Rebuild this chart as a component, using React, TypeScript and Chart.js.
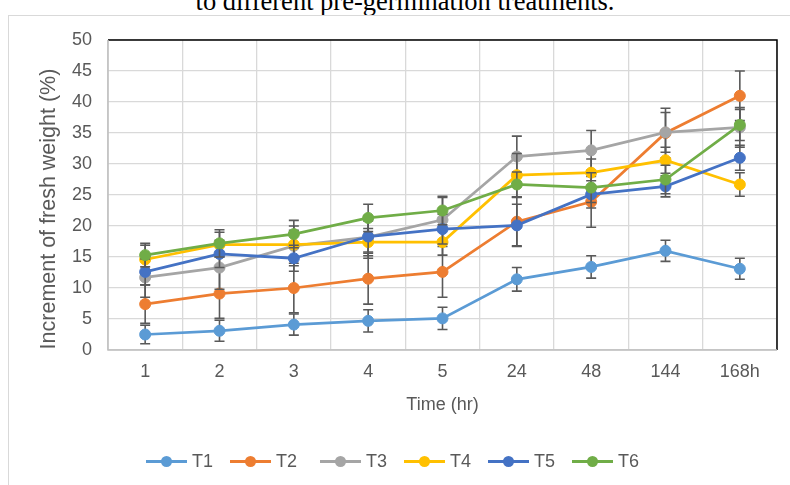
import React, { useEffect, useRef } from "react";
import { Chart, registerables } from "chart.js";

Chart.register(...registerables);

const categories = ["1", "2", "3", "4", "5", "24", "48", "144", "168h"];
const seriesNames = ["T1", "T2", "T3", "T4", "T5", "T6"];
const seriesColors = ["#5B9BD5", "#ED7D31", "#A5A5A5", "#FFC000", "#4472C4", "#70AD47"];

const t1 = [2.5, 3.1, 4.1, 4.7, 5.1, 11.4, 13.4, 16.0, 13.1];
const t2 = [7.4, 9.1, 10.0, 11.5, 12.6, 20.7, 23.9, 35.0, 41.0];
const t3 = [11.7, 13.3, 16.8, 18.2, 21.0, 31.2, 32.2, 35.1, 35.9];
const t4 = [14.6, 17.0, 17.0, 17.4, 17.4, 28.2, 28.6, 30.6, 26.7];
const t5 = [12.6, 15.5, 14.8, 18.3, 19.5, 20.1, 25.1, 26.4, 31.0];
const t6 = [15.3, 17.2, 18.7, 21.3, 22.5, 26.7, 26.2, 27.5, 36.3];

const t1Err = [1.5, 1.7, 1.7, 1.8, 1.8, 1.9, 1.8, 1.7, 1.7];
const t2Err = [3.1, 4.0, 4.0, 4.1, 4.1, 3.9, 4.1, 4.0, 4.0];
const t3Err = [3.2, 3.5, 3.2, 3.4, 3.6, 3.3, 3.2, 3.2, 3.2];
const t4Err = [2.3, 2.0, 2.3, 2.2, 2.1, 3.5, 2.2, 2.1, 1.9];
const t5Err = [2.1, 2.2, 2.1, 2.5, 2.4, 3.4, 2.2, 1.7, 2.0];
const t6Err = [1.9, 2.2, 2.2, 2.2, 2.3, 2.0, 2.4, 2.3, 2.5];

const seriesValues = [t1, t2, t3, t4, t5, t6];
const seriesErrors = [t1Err, t2Err, t3Err, t4Err, t5Err, t6Err];

const yTitle = "Increment of fresh weight (%)";
const xTitle = "Time (hr)";
const captionText = "to different pre-germination treatments.";

const sansFont = "'Liberation Sans', Arial, sans-serif";
const textGray = "#595959";

const errorBarPlugin = {
  id: "errorBars",
  beforeDatasetDraw(chart: any, args: any) {
    const idx = args.index;
    const errs = seriesErrors[idx];
    const vals = seriesValues[idx];
    if (!errs) return;
    const meta = chart.getDatasetMeta(idx);
    const yScale = chart.scales.y;
    const ctx = chart.ctx;
    ctx.save();
    ctx.strokeStyle = "#595959";
    ctx.lineWidth = 1.6;
    meta.data.forEach((pt: any, i: number) => {
      const x = pt.x;
      const yt = yScale.getPixelForValue(vals[i] + errs[i]);
      const yb = yScale.getPixelForValue(vals[i] - errs[i]);
      ctx.beginPath();
      ctx.moveTo(x, yt);
      ctx.lineTo(x, yb);
      ctx.moveTo(x - 5, yt);
      ctx.lineTo(x + 5, yt);
      ctx.moveTo(x - 5, yb);
      ctx.lineTo(x + 5, yb);
      ctx.stroke();
    });
    ctx.restore();
  },
};

const plotBorderPlugin = {
  id: "plotBorder",
  beforeDatasetsDraw(chart: any) {
    const { ctx, chartArea } = chart;
    ctx.save();
    ctx.strokeStyle = "#000000";
    ctx.lineWidth = 1.5;
    ctx.beginPath();
    ctx.moveTo(chartArea.left, chartArea.top);
    ctx.lineTo(chartArea.right, chartArea.top);
    ctx.lineTo(chartArea.right, chartArea.bottom);
    ctx.stroke();
    ctx.strokeStyle = "#bfbfbf";
    ctx.beginPath();
    ctx.moveTo(chartArea.left, chartArea.top);
    ctx.lineTo(chartArea.left, chartArea.bottom);
    ctx.lineTo(chartArea.right, chartArea.bottom);
    ctx.stroke();
    ctx.restore();
  },
};

export default function App() {
  const canvasRef = useRef<HTMLCanvasElement | null>(null);

  useEffect(() => {
    const canvas = canvasRef.current;
    if (!canvas) return;
    const chart = new Chart(canvas, {
      type: "line",
      data: {
        labels: categories,
        datasets: seriesNames.map((name, i) => ({
          label: name,
          data: seriesValues[i],
          borderColor: seriesColors[i],
          backgroundColor: seriesColors[i],
          pointBackgroundColor: seriesColors[i],
          pointBorderColor: seriesColors[i],
          pointRadius: 5.5,
          pointBorderWidth: 1,
          borderWidth: 2.75,
          tension: 0,
          order: seriesNames.length - i,
        })),
      },
      options: {
        animation: false,
        responsive: false,
        maintainAspectRatio: false,
        layout: { padding: { top: 40, right: 13, left: 0, bottom: 0 } },
        plugins: {
          legend: { display: false },
          tooltip: { enabled: false },
        },
        scales: {
          x: {
            type: "category",
            offset: true,
            grid: { color: "#d9d9d9", lineWidth: 1.3, offset: true, drawTicks: false },
            border: { display: false },
            ticks: {
              color: textGray,
              font: { family: sansFont, size: 18 },
              padding: 11,
              maxRotation: 0,
              autoSkip: false,
            },
            title: {
              display: true,
              text: xTitle,
              color: textGray,
              font: { family: sansFont, size: 18 },
              padding: { top: 0, bottom: 69 },
            },
            afterFit(scale: any) {
              scale.height = 135;
            },
          },
          y: {
            min: 0,
            max: 50,
            grid: { color: "#d9d9d9", lineWidth: 1.3, drawTicks: false },
            border: { display: false },
            ticks: {
              stepSize: 5,
              color: textGray,
              font: { family: sansFont, size: 18 },
              padding: 16,
            },
            afterFit(scale: any) {
              scale.width = 108;
            },
          },
        },
      },
      plugins: [plotBorderPlugin, errorBarPlugin],
    });
    return () => chart.destroy();
  }, []);

  return (
    <div
      style={{
        position: "absolute",
        left: 0,
        top: 0,
        width: 790,
        height: 485,
        overflow: "hidden",
        background: "#ffffff",
      }}
    >
      <div
        style={{
          position: "absolute",
          left: 0,
          top: -12,
          width: 810,
          textAlign: "center",
          fontFamily: "'Liberation Serif', 'Times New Roman', serif",
          fontSize: 26.5,
          lineHeight: "26px",
          color: "#000",
          whiteSpace: "nowrap",
        }}
      >
        {captionText}
      </div>
      <div
        style={{
          position: "absolute",
          left: 8,
          top: 15,
          width: 820,
          height: 520,
          border: "1px solid #d9d9d9",
          boxSizing: "border-box",
          background: "#ffffff",
        }}
      />
      <canvas
        ref={canvasRef}
        width={790}
        height={485}
        style={{ position: "absolute", left: 0, top: 0, width: 790, height: 485 }}
      />
      <div
        style={{
          position: "absolute",
          left: 48 - 170,
          top: 209 - 13,
          width: 340,
          height: 26,
          lineHeight: "26px",
          textAlign: "center",
          transform: "rotate(-90deg)",
          fontFamily: sansFont,
          fontSize: 21.5,
          color: textGray,
          whiteSpace: "nowrap",
        }}
      >
        {yTitle}
      </div>
      <div
        style={{
          position: "absolute",
          left: 146,
          top: 461 - 12,
          height: 24,
          display: "flex",
          alignItems: "center",
          fontFamily: sansFont,
          fontSize: 18,
          color: textGray,
          whiteSpace: "nowrap",
        }}
      >
        {seriesNames.map((name, i) => (
          <div
            key={name}
            style={{ display: "flex", alignItems: "center", marginRight: i === 1 ? 23 : 17 }}
          >
            <div style={{ position: "relative", width: 41, height: 24 }}>
              <div
                style={{
                  position: "absolute",
                  left: 0,
                  top: 10.5,
                  width: 41,
                  height: 3,
                  background: seriesColors[i],
                }}
              />
              <div
                style={{
                  position: "absolute",
                  left: 15,
                  top: 6.5,
                  width: 11,
                  height: 11,
                  borderRadius: "50%",
                  background: seriesColors[i],
                }}
              />
            </div>
            <span style={{ marginLeft: 5 }}>{name}</span>
          </div>
        ))}
      </div>
    </div>
  );
}
